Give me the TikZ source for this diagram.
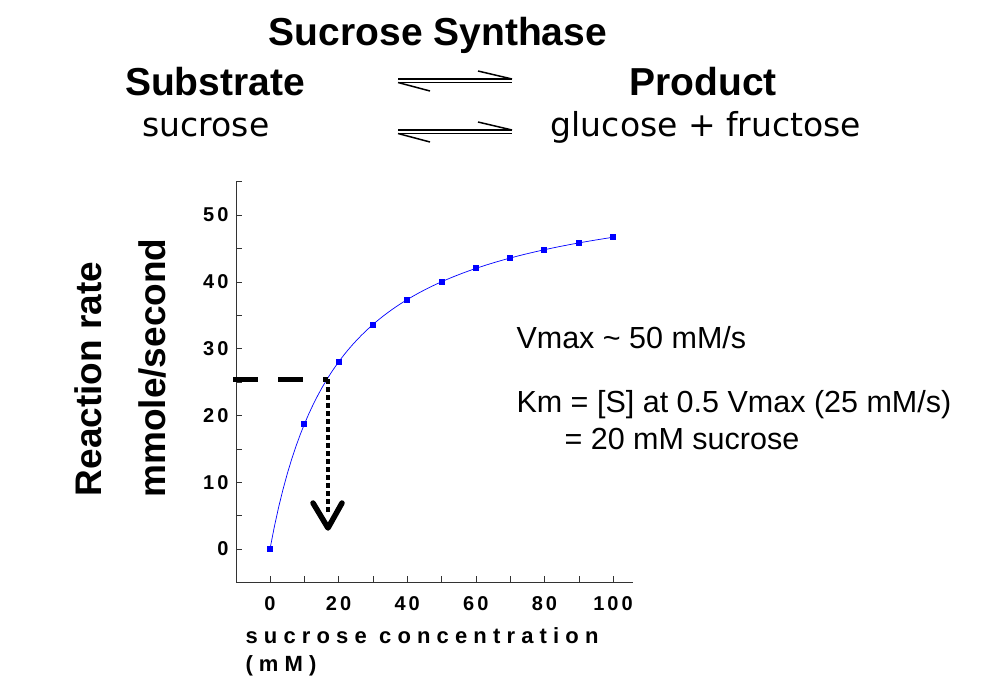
\documentclass[tikz,border=0pt]{standalone}
\usepackage{fontspec}
\setmainfont{Liberation Sans}
\newfontfamily\handfont{DejaVu Sans}
\newfontfamily\spacedfont[LetterSpace=28]{Liberation Sans}
\newfontfamily\tickfont[LetterSpace=15]{Liberation Sans}
\begin{document}
\begin{tikzpicture}[x=1pt,y=-1pt,
  declare function={px(\s)=270+3.43*\s; py(\v)=549-6.68*\v; mm(\s)=56*\s/(20+\s);},
  title/.style={font=\fontsize{39}{42}\selectfont\bfseries},
  hand/.style={font=\handfont\fontsize{33}{36}\selectfont},
  ticklbl/.style={font=\tickfont\fontsize{20}{22}\selectfont\bfseries},
  note/.style={font=\fontsize{30.5}{34}\selectfont, anchor=west}]

	% bounding box
	\useasboundingbox (0,0) rectangle (986,678);

	% reaction header
	\node[title] (enz) at (438,35) {Sucrose Synthase};
	\node[title] (sub) at (215,82) {Substrate};
	\node[title] (prod) at (703,82) {Product};
	\node[hand] (suc) at (206,127) {sucrose};
	\node[hand] (gf) at (706,127) {glucose + fructose};
	\foreach \yy in {81,132} {
		\draw[line width=1.5pt] (398,\yy-2) -- (512,\yy-2);
		\draw[line width=1.5pt] (398,\yy+1.5) -- (512,\yy+1.5);
		\draw[line width=1.5pt] (512,\yy-2) -- (478,\yy-10);
		\draw[line width=1.5pt] (398,\yy+1.5) -- (430,\yy+10);
	}

	% axes
	\draw[gray!40!black, line width=0.8pt] (236,182) -- (236,582) -- (633,582);
	\foreach \v in {-5,0,...,55}
		\draw[gray!40!black] (236,{py(\v)}) -- (242,{py(\v)});
	\foreach \v in {0,10,...,50}
		\node[ticklbl, anchor=east] (y\v) at (232,{py(\v)}) {\v};
	\foreach \s in {-10,0,...,100}
		\draw[gray!40!black] ({px(\s)},582) -- ({px(\s)},576);
	\foreach \s in {0,20,...,100}
		\node[ticklbl] (x\s) at ({px(\s)},604) {\s};

	% axis titles
	\node[font=\fontsize{37}{40}\selectfont\bfseries, rotate=90] (yt1) at (88,379) {Reaction rate};
	\node[font=\fontsize{37}{40}\selectfont\bfseries, rotate=90] (yt2) at (152,368) {mmole/second};
	\node[font=\spacedfont\fontsize{22}{24}\selectfont\bfseries, anchor=west] (xt1) at (242,636) {sucrose concentration};
	\node[font=\spacedfont\fontsize{22}{24}\selectfont\bfseries, anchor=west] (xt2) at (242,666) {(mM)};

	% curve and data
	\draw[blue, line width=0.7pt, domain=0:100, samples=80] plot ({px(\x)},{py(mm(\x))});
	\foreach \s in {0,10,...,100}
		\fill[blue] ({px(\s)-3},{py(mm(\s))-3}) rectangle ++(6,6);

	% Km guide
	\coordinate (km) at (328,379);
	\coordinate (kmaxis) at (233,379);
	\coordinate (kmtip) at (328,528);
	\draw[line width=5pt, dash pattern=on 25pt off 20pt] (kmaxis) -- (km);
	\draw[line width=4.5pt, dash pattern=on 4.5pt off 3.5pt] (km) -- (328,512);
	\draw[line width=5.5pt, line cap=round, line join=round] (313,503) -- (kmtip) -- (342,503);

	% notes
	\node[note] (vmax) at (513,338) {Vmax \textasciitilde{} 50 mM/s};
	\node[note] (km1) at (513,405) {Km = [S] at 0.5 Vmax (25 mM/s)};
	\node[note] (km2) at (561,439) {= 20 mM sucrose};

\end{tikzpicture}
\end{document}
